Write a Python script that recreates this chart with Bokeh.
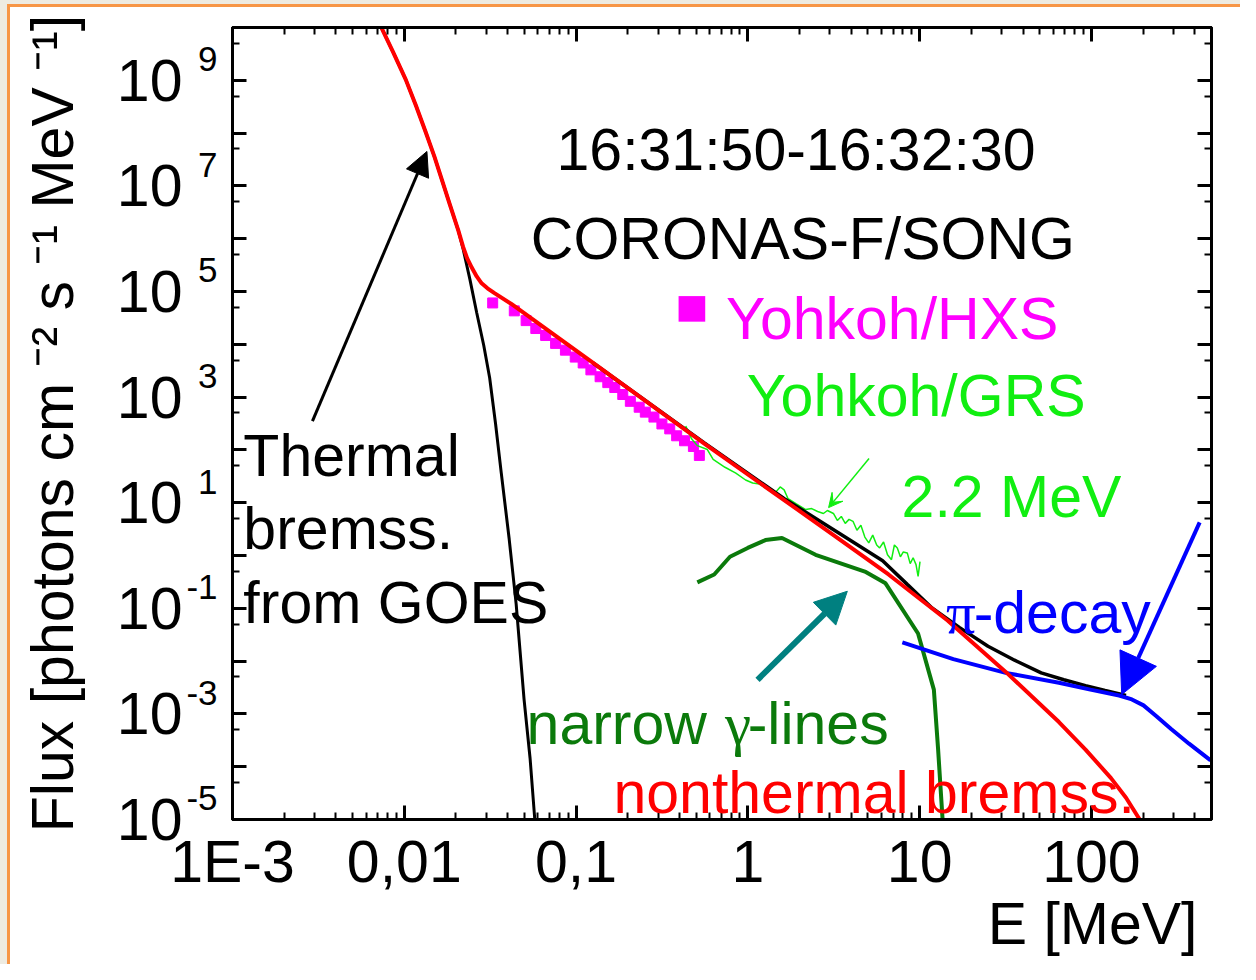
import numpy as np
from bokeh.plotting import figure
from bokeh.models import (LogAxis, FixedTicker, Label, Arrow, NormalHead, VeeHead, BoxAnnotation, Range1d,
                          CustomJSTickFormatter, Title, LogScale)
from bokeh.embed import file_html
from bokeh.resources import INLINE

# ---------------- data ----------------
thermal_E = [7.35e-3, 8.61e-3, 0.0102, 0.01167, 0.0133, 0.01496, 0.01663, 0.0185, 0.0206, 0.0220, 0.0241,
             0.0264, 0.0290, 0.0314, 0.0340, 0.0367, 0.0408, 0.0448, 0.0498, 0.0540, 0.0575]
thermal_F = [1e10, 3.42e9, 1.03e9, 3.37e8, 1.06e8, 3.62e7, 1.24e7, 4.25e6, 1.45e6, 6.43e5, 1.70e5,
             3.95e4, 9.59e3, 2.33e3, 310, 36.3, 2.05, 0.120, 1.88e-3, 1.43e-4, 1e-5]

nonthermal_E = [7.35e-3, 8.61e-3, 0.0102, 0.01167, 0.0133, 0.01496, 0.01663, 0.0185, 0.0206, 0.0220,
                0.0232, 0.0247, 0.0264, 0.0282, 0.0305, 0.0335, 0.0420, 0.1257, 0.558, 3.40, 6.59,
                14.6, 31.7, 64.7, 92.4, 130.0, 159.0, 191.0]
nonthermal_F = [1e10, 3.42e9, 1.03e9, 3.37e8, 1.06e8, 3.62e7, 1.24e7, 4.25e6, 1.45e6, 7.0e5,
                4.3e5, 2.84e5, 1.93e5, 1.43e5, 1.15e5, 9.3e4, 5.81e4, 4.43e3, 131.5, 2.05, 0.437,
                0.0582, 6.25e-3, 7.0e-4, 2.11e-4, 6.07e-5, 2.58e-5, 1e-5]

total_E = [0.1257, 0.558, 1.63, 3.40, 6.09, 8.47, 11.8, 17.1, 25.0, 35.7, 51.0, 69.1, 92.4, 120.0, 159.0]
total_F = [4.43e3, 135.0, 11.9, 2.65, 0.796, 0.284, 0.1016, 0.0431, 0.0191, 0.0104, 5.98e-3, 4.44e-3,
           3.43e-3, 2.77e-3, 2.23e-3]

pion_E = [7.93, 15.7, 31.7, 64.7, 98.6, 145.0, 172.0, 201.0, 239.0, 291.0, 370.0, 494.0]
pion_F = [0.0226, 0.0109, 5.98e-3, 3.90e-3, 2.88e-3, 2.23e-3, 1.88e-3, 1.45e-3, 9.06e-4, 5.19e-4,
          2.73e-4, 1.32e-4]

narrow_E = [0.508, 0.637, 0.787, 0.998, 1.265, 1.58, 2.48, 4.80, 6.33, 9.79, 12.1, 12.8, 13.6]
narrow_F = [0.310, 0.437, 0.946, 1.39, 1.96, 2.14, 1.03, 0.497, 0.297, 0.0333, 2.88e-3, 2.20e-4, 1e-5]

grs_E = [0.435, 0.470, 0.508, 0.581, 0.628, 0.736, 0.851, 0.970, 1.066, 1.169, 1.316, 1.425, 1.542,
         1.626, 1.714, 1.905, 2.173, 2.353, 2.547, 2.754, 2.904, 3.148, 3.319, 3.499, 3.690, 3.882,
         4.093, 4.315, 4.550, 4.797, 5.058, 5.333, 5.623, 5.848, 6.166, 6.501, 6.855, 7.129, 7.413,
         7.727, 8.035, 8.472, 8.810, 9.162, 9.528, 9.795, 10.05]
grs_F = [284, 163, 120.5, 101.6, 66.1, 46.9, 36.3, 26.9, 23.6, 22.6, 17.5, 14.7, 19.9,
         17.5, 11.9, 9.59, 7.41, 7.74, 6.81, 6.25, 7.11, 6.25, 4.62, 5.50, 4.06, 4.83,
         4.44, 3.01, 3.73, 2.23, 1.73, 2.43, 1.58, 1.39, 1.80, 1.03, 0.832, 1.58, 1.39,
         0.946, 1.17, 1.12, 0.700, 0.906, 0.671, 0.401, 0.764]

hxs_E = [0.0327, 0.0437, 0.0512, 0.0583, 0.0665, 0.0760, 0.0867, 0.0989, 0.110, 0.122, 0.138, 0.153,
         0.168, 0.187, 0.207, 0.233, 0.253, 0.284, 0.316, 0.351, 0.385, 0.428, 0.482, 0.522]
hxs_F = [6.07e4, 4.30e4, 2.81e4, 1.99e4, 1.47e4, 1.04e4, 7.74e3, 5.73e3, 4.43e3, 3.28e3, 2.43e3, 1.88e3,
         1.52e3, 1.12e3, 832, 643, 519, 419, 310, 250, 185, 149, 116, 78.5]

x_major_ticks = [1e-3, 1e-2, 1e-1, 1.0, 10.0, 100.0]
x_tick_labels = ["1E-3", "0,01", "0,1", "1", "10", "100"]
y_label_ticks = [1e9, 1e7, 1e5, 1e3, 1e1, 1e-1, 1e-3, 1e-5]
y_label_bases = ["10"] * 8
y_label_exponents = ["9", "7", "5", "3", "1", "-1", "-3", "-5"]
y_tick_labels = ["10\u2079", "10\u2077", "10\u2075", "10\u00b3", "10\u00b9",
                 "10\u207b\u00b9", "10\u207b\u00b3", "10\u207b\u2075"]
x_title = "E [MeV]"
y_title = "Flux [photons cm \u207b\u00b2 s \u207b\u00b9 MeV \u207b\u00b9]"

X0, X1 = 1e-3, 500.0
Y0, Y1 = 1e-5, 1e10

# ---------------- figure ----------------
FONT = "Liberation Sans"
SERIF = "Liberation Serif"
FS = 59      # main text size
ES = 35      # exponent size

p = figure(x_axis_type="log", y_axis_type="log",
           x_range=Range1d(X0, X1), y_range=Range1d(Y0, Y1),
           frame_width=979, frame_height=792,
           min_border_left=232, min_border_right=29, min_border_top=27, min_border_bottom=145,
           output_backend="svg", toolbar_location=None,
           background_fill_color="white", border_fill_color=None)
# slide background: beige margin, orange rule on the left and top, white inside
p.styles = {"background": "linear-gradient(#EEEBE1,#EEEBE1) 0px 0px / 7px 3000px no-repeat, "
                          "linear-gradient(#EEEBE1,#EEEBE1) 0px 0px / 3000px 4px no-repeat, "
                          "linear-gradient(#F79646,#F79646) 7px 4px / 3px 3000px no-repeat, "
                          "linear-gradient(#F79646,#F79646) 7px 4px / 3000px 3px no-repeat, #FFFFFF"}
p.grid.visible = False
p.outline_line_color = "black"
p.outline_line_width = 3

x_minor = [m * 10.0 ** k for k in range(-3, 3) for m in range(2, 10) if m * 10.0 ** k <= X1]
y_major = [10.0 ** k for k in range(-5, 11)]
y_minor = [5 * 10.0 ** k for k in range(-5, 10)]
xt = FixedTicker(ticks=x_major_ticks, minor_ticks=x_minor)
yt = FixedTicker(ticks=y_major, minor_ticks=y_minor)

p.add_layout(LogAxis(), "above")
p.add_layout(LogAxis(), "right")

LABEL_JS = """
const i = vals.findIndex((v) => Math.abs(Math.log10(v) - Math.log10(tick)) < 1e-6);
return i >= 0 ? labs[i] : "";
"""


def style_axis(ax, ticker):
    ax.ticker = ticker
    ax.axis_line_width = 3
    ax.axis_line_color = "black"
    ax.major_tick_in = 14
    ax.major_tick_out = 0
    ax.major_tick_line_width = 3
    ax.minor_tick_in = 7
    ax.minor_tick_out = 0
    ax.minor_tick_line_width = 2
    ax.major_label_text_font_size = "1px"
    ax.major_label_text_color = None
    ax.major_label_standoff = 0


for ax in p.xaxis:
    style_axis(ax, xt)
for ax in p.yaxis:
    style_axis(ax, yt)


def label_axis(ax, vals, labs, size, standoff):
    ax.formatter = CustomJSTickFormatter(args=dict(vals=vals, labs=labs), code=LABEL_JS)
    ax.major_label_text_font_size = f"{size}px"
    ax.major_label_text_font = FONT
    ax.major_label_text_color = "black"
    ax.major_label_standoff = standoff


def hide_lines(ax):
    ax.axis_line_color = None
    ax.major_tick_line_color = None
    ax.minor_tick_line_color = None


# bottom axis labels
label_axis(p.below[0], x_major_ticks, x_tick_labels, FS, 9)

# left axis labels: "10" with raised exponent (exponent axis on a slightly shifted range)
RAISE = 0.40   # decades the exponent sits above its tick
split = True
try:
    p.extra_y_scales = {"exp": LogScale()}
    p.extra_y_ranges = {"exp": Range1d(Y0 / 10 ** RAISE, Y1 / 10 ** RAISE)}
except Exception:
    split = False

if split:
    exp_axis = LogAxis(y_range_name="exp")
    base_axis = LogAxis()
    p.add_layout(exp_axis, "left")
    p.add_layout(base_axis, "left")
    for ax in (exp_axis, base_axis):
        style_axis(ax, FixedTicker(ticks=y_major, minor_ticks=[]))
        hide_lines(ax)
    label_axis(exp_axis, y_label_ticks, y_label_exponents, ES, 15)
    label_axis(base_axis, y_label_ticks, y_label_bases, FS, 1)
    title_axis = base_axis
else:
    label_axis(p.left[0], y_label_ticks, y_tick_labels, FS, 16)
    title_axis = p.left[0]

title_axis.axis_label = y_title
title_axis.axis_label_text_font = FONT
title_axis.axis_label_text_font_size = f"{FS}px"
title_axis.axis_label_text_font_style = "normal"
title_axis.axis_label_text_color = "black"
title_axis.axis_label_standoff = 28 if split else 24

xt_title = Title(text=x_title, align="right", offset=14, standoff=0,
                 text_font=FONT, text_font_size=f"{FS}px", text_font_style="normal",
                 text_color="black")
try:
    xt_title.standoff = -18
except Exception:
    pass
p.add_layout(xt_title, "below")

# reference-pixel helpers (reference frame spans x 235..1227, y 27..832)
FL, FT, FW, FH = 235.0, 27.0, 992.0, 805.0
LX0, LX1, LY0, LY1 = np.log10(X0), np.log10(X1), np.log10(Y0), np.log10(Y1)


def px2x(px):
    return 10 ** (LX0 + (px - FL) / FW * (LX1 - LX0))


def py2y(py):
    return 10 ** (LY1 - (py - FT) / FH * (LY1 - LY0))


def lab(text, px, py, size=FS, color="black", font=FONT, align="left"):
    p.add_layout(Label(x=px2x(px), y=py2y(py), text=text, text_font=font,
                       text_font_size=f"{size}px", text_color=color, text_align=align,
                       text_baseline="alphabetic"))


# ---------------- curves ----------------
p.scatter(hxs_E, hxs_F, marker="square", size=10, fill_color="#FF00FF", line_color="#FF00FF")
p.line(grs_E, grs_F, line_color="#11EE11", line_width=1.5)
p.line(thermal_E, thermal_F, line_color="black", line_width=3)
p.line(total_E, total_F, line_color="black", line_width=3.5)
p.line(narrow_E, narrow_F, line_color="#0B7A0B", line_width=4)
p.line(pion_E, pion_F, line_color="#0000FF", line_width=4)
p.line(nonthermal_E, nonthermal_F, line_color="#FF0000", line_width=4)


# ---------------- arrows ----------------
def arrow(tail, tip, color, width, head):
    p.add_layout(Arrow(x_start=px2x(tail[0]), y_start=py2y(tail[1]),
                       x_end=px2x(tip[0]), y_end=py2y(tip[1]),
                       line_color=color, line_width=width, end=head))


arrow((316, 427), (432, 153), "black", 3, NormalHead(size=24, fill_color="black", line_color="black"))
arrow((880, 465), (839, 515), "#11EE11", 1.5, VeeHead(size=14, fill_color="#11EE11", line_color="#11EE11"))
arrow((767, 690), (858, 600), "#008080", 6, NormalHead(size=32, fill_color="#008080", line_color="#008080"))
arrow((1215, 530), (1136, 705), "#0000FF", 4, NormalHead(size=40, fill_color="#0000FF", line_color="#0000FF"))

# ---------------- annotations ----------------
lab("16:31:50-16:32:30", 806, 152, align="center")
lab("CORONAS-F/SONG", 813, 242, align="center")
p.add_layout(BoxAnnotation(left=px2x(687), right=px2x(714), top=py2y(300), bottom=py2y(326),
                           fill_color="#FF00FF", fill_alpha=1.0, line_color=None))
lab("Yohkoh/HXS", 735, 323, color="#FF00FF")
lab("Yohkoh/GRS", 756, 402, color="#11EE11")
lab("2.2 MeV", 913, 504, color="#11EE11")
lab("\u03c0", 958, 622, color="#0000FF", font=SERIF)
lab("-decay", 986, 622, color="#0000FF")
lab("narrow", 533, 735, color="#0B7A0B")
lab("\u03b3", 734, 735, color="#0B7A0B", font=SERIF)
lab("-lines", 757, 735, color="#0B7A0B")
lab("nonthermal bremss.", 621, 805, color="#FF0000")
lab("Thermal", 246, 463)
lab("bremss.", 246, 537)
lab("from GOES", 246, 612)

open("out.html", "w").write(file_html(p, INLINE))
